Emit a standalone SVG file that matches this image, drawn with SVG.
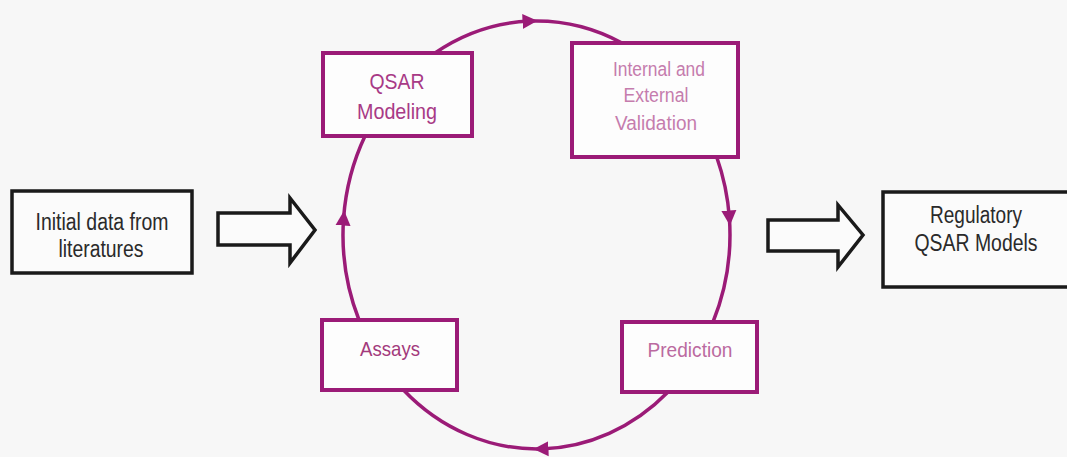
<svg xmlns="http://www.w3.org/2000/svg" width="1067" height="457" viewBox="0 0 1067 457">
  <defs>
    <marker id="arrowHead" viewBox="0 0 10 10" refX="5" refY="5" markerUnits="userSpaceOnUse" markerWidth="15" markerHeight="17" orient="auto">
      <path d="M0,0 L10,5 L0,10 z" fill="#9b1b77"/>
    </marker>
  </defs>
  <style>
    .bg { fill: #f7f7f7; }
    .blackbox { fill: #fbfbfb; stroke: #1a1a1a; stroke-width: 3.5; }
    .purplebox { fill: #fdfdfd; stroke: #9b1b77; stroke-width: 4; }
    .cycle { fill: none; stroke: #9b1b77; stroke-width: 3.5; marker-mid: url(#arrowHead); }
    .hollow { fill: #fbfbfb; stroke: #1a1a1a; stroke-width: 3.5; stroke-linejoin: miter; }
    .t { font-family: "Liberation Sans", Arial, sans-serif; text-anchor: middle; }
    .dark { fill: #2a2a2a; font-size: 23px; }
    .p1 { fill: #a83a86; font-size: 22px; }
    .p2 { fill: #c57cad; font-size: 20px; }
    .p3 { fill: #a33a7c; font-size: 21px; }
    .p4 { fill: #bb6aa0; font-size: 21px; }
  </style>
  <rect class="bg" x="0" y="0" width="1067" height="457"/>

  <g id="connectors">
    <path class="cycle" d="M435,53 A193.5,214 0 0 1 530,21.1 A193.5,214 0 0 1 622,43"/>
    <path class="cycle" d="M716.7,157 A193.5,214 0 0 1 729.4,218 A193.5,214 0 0 1 713,322"/>
    <path class="cycle" d="M668,392 A193.5,214 0 0 1 541,448.9 A193.5,214 0 0 1 403.5,390"/>
    <path class="cycle" d="M359,320 A193.5,214 0 0 1 343.6,218 A193.5,214 0 0 1 365,136"/>
    <polygon id="arrow-in" class="hollow" points="218,213 290,213 290,198 315,230 290,263 290,245 218,245"/>
    <polygon id="arrow-out" class="hollow" points="768,220 838,220 838,205 863,235 838,267 838,251 768,251"/>
  </g>

  <g id="node-initial">
    <rect class="blackbox" x="12" y="191" width="180" height="82"/>
    <text class="t dark" x="102" y="230" textLength="133" lengthAdjust="spacingAndGlyphs">Initial data from</text>
    <text class="t dark" x="101" y="257" textLength="85" lengthAdjust="spacingAndGlyphs">literatures</text>
  </g>

  <g id="node-qsar-modeling">
    <rect class="purplebox" x="323" y="53" width="149" height="83"/>
    <text class="t p1" x="397" y="89" textLength="55" lengthAdjust="spacingAndGlyphs">QSAR</text>
    <text class="t p1" x="397" y="119" textLength="80" lengthAdjust="spacingAndGlyphs">Modeling</text>
  </g>

  <g id="node-validation">
    <rect class="purplebox" x="572" y="43" width="166" height="114"/>
    <text class="t p2" x="659" y="76" textLength="92" lengthAdjust="spacingAndGlyphs">Internal and</text>
    <text class="t p2" x="656" y="102" textLength="65" lengthAdjust="spacingAndGlyphs">External</text>
    <text class="t p2" x="656" y="130" textLength="82" lengthAdjust="spacingAndGlyphs">Validation</text>
  </g>

  <g id="node-assays">
    <rect class="purplebox" x="322" y="320" width="135" height="70"/>
    <text class="t p3" x="390" y="356" textLength="60" lengthAdjust="spacingAndGlyphs">Assays</text>
  </g>

  <g id="node-prediction">
    <rect class="purplebox" x="622" y="322" width="135" height="70"/>
    <text class="t p4" x="690" y="357" textLength="85" lengthAdjust="spacingAndGlyphs">Prediction</text>
  </g>

  <g id="node-regulatory">
    <rect class="blackbox" x="883" y="192" width="186" height="95"/>
    <text class="t dark" x="976" y="223" textLength="92" lengthAdjust="spacingAndGlyphs">Regulatory</text>
    <text class="t dark" x="976" y="251" textLength="123" lengthAdjust="spacingAndGlyphs">QSAR Models</text>
  </g>
</svg>
